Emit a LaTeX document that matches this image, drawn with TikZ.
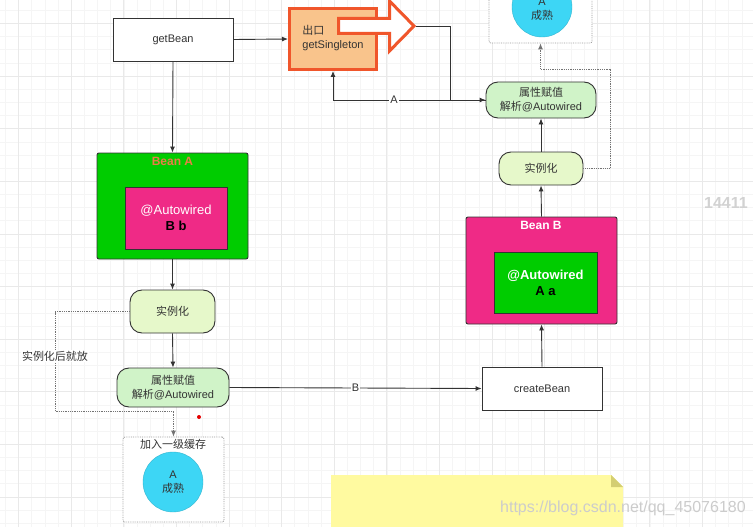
\documentclass[tikz,border=0pt]{standalone}
\usepackage{fontspec}
\setmainfont{Liberation Sans}
\newfontfamily\cjk{Noto Sans CJK SC}
\usetikzlibrary{arrows.meta}
\definecolor{textc}{HTML}{333333}
\definecolor{linec}{HTML}{333333}
\definecolor{gridminor}{HTML}{F5F5F5}
\definecolor{gridmajor}{HTML}{E9E9E9}
\definecolor{exitborder}{HTML}{F0562B}
\definecolor{exitfill}{HTML}{F9C48C}
\definecolor{beangreen}{HTML}{00CC00}
\definecolor{beanpink}{HTML}{EF2A86}
\definecolor{attrfill}{HTML}{D0F3C8}
\definecolor{instfill}{HTML}{E6F8CA}
\definecolor{cyanfill}{HTML}{3DD6F5}
\definecolor{notefill}{HTML}{FFFAA0}
\definecolor{notefold}{HTML}{D4CE72}
\definecolor{titleorange}{HTML}{EA7D47}
\tikzset{
  base/.style={font=\fontsize{11}{14}\selectfont, text=textc, align=center, inner sep=0pt},
  whitebox/.style={base, draw=linec, line width=0.9pt, fill=white, minimum width=120pt, minimum height=43pt},
  roundbox/.style={base, draw=linec, line width=0.9pt, rounded corners=12pt},
  outerbox/.style={draw=linec, line width=0.9pt, rounded corners=2pt},
  innerbox/.style={base, draw=linec, line width=0.9pt, font=\bfseries\fontsize{13}{16}\selectfont},
  cachebox/.style={draw=gray!80, densely dotted, line width=0.8pt, rounded corners=2pt, fill=white},
  ripe/.style={base, circle, fill=cyanfill, draw=cyanfill!85!black, line width=0.4pt, minimum size=60pt},
  conn/.style={draw=linec, line width=0.9pt, -{Latex[length=6pt,width=5pt]}},
  dotconn/.style={draw=gray!90!black, densely dotted, line width=0.8pt, -{Latex[length=6pt,width=5pt]}},
  edgelabel/.style={base, fill=white, inner sep=1pt},
}
\begin{document}
\begin{tikzpicture}[x=1pt,y=-1pt]
\clip (0,0) rectangle (753,527);
\fill[white] (0,0) rectangle (753,527);
% grid
\foreach \i in {0,...,57} {\draw[gridminor, line width=0.8pt] ({5.55+13.15*\i},0) -- ({5.55+13.15*\i},527);}
\foreach \i in {0,...,40} {\draw[gridminor, line width=0.8pt] (0,{10.45+13.15*\i}) -- (753,{10.45+13.15*\i});}
\foreach \i in {0,...,14} {\draw[gridmajor, line width=0.9pt] ({18.7+52.6*\i},0) -- ({18.7+52.6*\i},527);}
\foreach \i in {0,...,10} {\draw[gridmajor, line width=0.9pt] (0,{23.6+52.6*\i}) -- (753,{23.6+52.6*\i});}

% ---------- left column ----------
\node[whitebox] (getbean) at (173,39.5) {getBean};
\node[base, draw=exitborder, line width=3pt, fill=exitfill, minimum width=87pt, minimum height=61pt] (exit) at (333,39) {\begin{tabular}{@{}l@{}}{\cjk 出口}\\getSingleton\end{tabular}};
% big outline arrow
\filldraw[draw=exitborder, fill=white, line width=3pt, line join=miter]
  (338.5,18.5) -- (389.5,18.5) -- (389.5,1) -- (414,26) -- (389.5,51) -- (389.5,33.5) -- (338.5,33.5) -- cycle;
\coordinate (arrowtip) at (415.5,26);

\node[outerbox, fill=beangreen, minimum width=151pt, minimum height=106pt] (beanA) at (172.5,206) {};
\node[base, font=\bfseries\fontsize{12}{14}\selectfont, text=titleorange] (beanAtitle) at (172.5,161) {Bean A};
\node[innerbox, fill=beanpink, minimum width=102pt, minimum height=62pt] (innerA) at (176,218)
  {\textcolor{white}{\mdseries @Autowired}\\\textcolor{black}{B b}};

\node[roundbox, fill=instfill, minimum width=85pt, minimum height=43pt] (inst1) at (172.5,311.5) {\cjk 实例化};
\node[roundbox, fill=attrfill, minimum width=112pt, minimum height=39pt] (attr1) at (173,387.5) {{\cjk 属性赋值}\\{\cjk 解析}@Autowired};

\node[cachebox, minimum width=101pt, minimum height=85pt] (cache1) at (173.5,479.5) {};
\node[base] (cache1title) at (173,444) {\cjk 加入一级缓存};
\node[ripe] (ripe1) at (173,482) {A\\{\cjk 成熟}};

\fill[red!90!black] (199,417) circle (2pt);

% ---------- right column ----------
\node[cachebox, minimum width=103pt, minimum height=103pt] (cache2) at (540.5,-8.5) {};
\node[ripe] (ripe2) at (542,7) {};
\node[base] (ripe2text) at (542,9) {A\\{\cjk 成熟}};

\node[roundbox, fill=attrfill, minimum width=110pt, minimum height=36pt] (attr2) at (541,100) {{\cjk 属性赋值}\\{\cjk 解析}@Autowired};
\node[roundbox, fill=instfill, minimum width=84pt, minimum height=33pt] (inst2) at (541,168.5) {\cjk 实例化};

\node[outerbox, fill=beanpink, minimum width=151pt, minimum height=107pt] (beanB) at (541.5,270.5) {};
\node[base, font=\bfseries\fontsize{12}{14}\selectfont, text=white] (beanBtitle) at (541,225) {Bean B};
\node[innerbox, fill=beangreen, minimum width=103pt, minimum height=61pt] (innerB) at (545.5,282.5)
  {\textcolor{white}{@Autowired}\\\textcolor{black}{A a}};

\node[whitebox] (create) at (542,388.5) {createBean};

% note
\fill[notefill] (331,475) -- (611,475) -- (623,487) -- (623,530) -- (331,530) -- cycle;
\fill[notefold] (611,475) -- (611,487) -- (623,487) -- cycle;

% ---------- connectors ----------
\draw[conn] (getbean.east) -- (exit.west);
\draw[conn] (getbean.south) -- (beanA.north);
\draw[conn] (beanA.south) -- (inst1.north);
\draw[conn] (inst1.south) -- (attr1.north);
\draw[conn] (attr1.east) -- node[edgelabel, pos=0.5] (lblB) {B} (create.west);
\draw[conn] (create.north) -- (beanB.south);
\draw[conn] (beanB.north) -- (inst2.south);
\draw[conn] (inst2.north) -- (attr2.south);
\draw[conn] (arrowtip) -- (450,26) |- (attr2.west);
\draw[conn] (attr2.west) -| node[edgelabel, pos=0.3] (lblA) {A} (exit.south);

\draw[dotconn] (inst1.west) -- (55,311.5) -- node[edgelabel, pos=0.45] (lblput) {\cjk 实例化后就放} (55,411) -- (173.5,411) -- (cache1.north);
\draw[dotconn] (inst2.east) -- (610,168.5) -- (610,69) -- (540.5,69) -- (cache2.south);

% watermarks
\node[base, anchor=west, font=\bfseries\fontsize{16}{18}\selectfont, text=gray!35] (wm1) at (704,203) {14411};
\node[base, anchor=west, font=\fontsize{16}{18}\selectfont, text=gray!40] (wm2) at (500,508) {https://blog.csdn.net/qq\_45076180};
\end{tikzpicture}
\end{document}
